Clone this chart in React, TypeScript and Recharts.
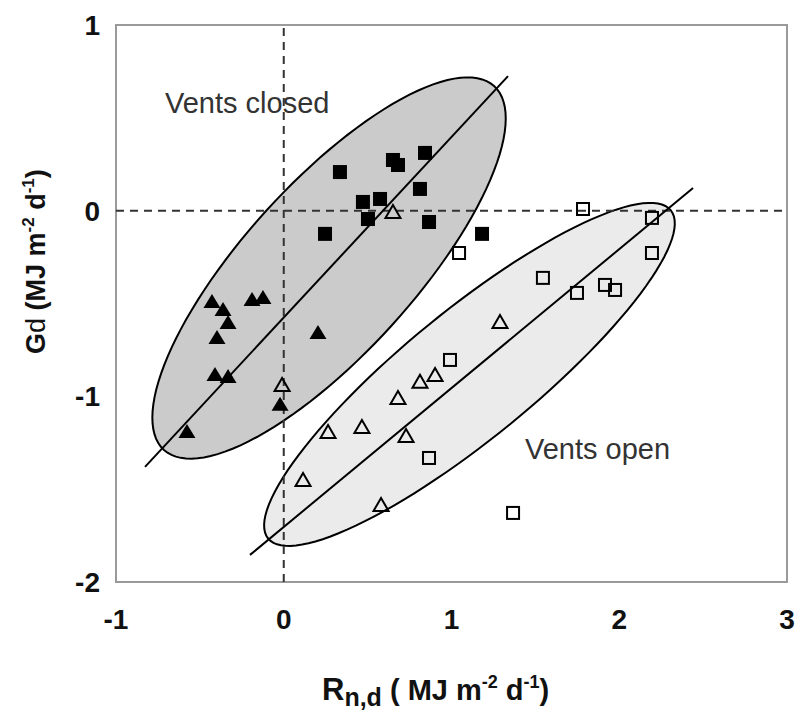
import React from 'react';
import { ScatterChart, Scatter, XAxis, YAxis, ReferenceArea, Customized } from 'recharts';

// vents closed (filled markers)
const closedSquares = [
  { x: 0.335, y: 0.208 }, { x: 0.651, y: 0.273 }, { x: 0.681, y: 0.246 }, { x: 0.842, y: 0.311 },
  { x: 0.812, y: 0.117 }, { x: 0.472, y: 0.047 }, { x: 0.574, y: 0.063 }, { x: 0.502, y: -0.045 },
  { x: 0.246, y: -0.125 }, { x: 0.866, y: -0.061 }, { x: 1.182, y: -0.125 },
];
const closedTriangles = [
  { x: -0.428, y: -0.492 }, { x: -0.362, y: -0.535 }, { x: -0.332, y: -0.605 }, { x: -0.398, y: -0.686 },
  { x: -0.189, y: -0.481 }, { x: -0.124, y: -0.47 }, { x: 0.204, y: -0.659 }, { x: -0.41, y: -0.885 },
  { x: -0.332, y: -0.896 }, { x: -0.022, y: -1.046 }, { x: -0.577, y: -1.192 },
];
// vents open (open markers)
const openTriangles = [
  { x: -0.01, y: -0.939 }, { x: 0.264, y: -1.192 }, { x: 0.466, y: -1.165 }, { x: 0.681, y: -1.009 },
  { x: 0.812, y: -0.922 }, { x: 0.902, y: -0.885 }, { x: 0.729, y: -1.213 }, { x: 0.115, y: -1.45 },
  { x: 0.58, y: -1.585 }, { x: 0.651, y: -0.007 }, { x: 1.289, y: -0.599 },
];
const openSquares = [
  { x: 1.784, y: 0.009 }, { x: 2.195, y: -0.039 }, { x: 2.195, y: -0.228 }, { x: 1.045, y: -0.228 },
  { x: 1.545, y: -0.362 }, { x: 1.748, y: -0.443 }, { x: 1.915, y: -0.4 }, { x: 1.975, y: -0.427 },
  { x: 0.991, y: -0.804 }, { x: 0.866, y: -1.332 }, { x: 1.367, y: -1.628 },
];

const closedFit = [{ x: -0.827, y: -1.38 }, { x: 1.337, y: 0.725 }];
const openFit = [{ x: -0.201, y: -1.854 }, { x: 2.44, y: 0.122 }];
const vZero = [{ x: 0, y: -2 }, { x: 0, y: 1 }];
const hZero = [{ x: -1, y: 0 }, { x: 3, y: 0 }];

const xTicks = [-1, 0, 1, 2, 3];
const yTicks = [-2, -1, 0, 1];

const closedLabel = [{ x: -0.708, y: 0.526 }];
const openLabel = [{ x: 1.438, y: -1.337 }];

// ellipse outlines: centre + two conjugate half-axes, in data units
const ellipsePoints = (cx: number, cy: number, ux: number, uy: number, vx: number, vy: number) => {
  const pts = [];
  for (let i = 0; i < 120; i++) {
    const t = (i / 120) * Math.PI * 2;
    pts.push({ x: cx + ux * Math.cos(t) + vx * Math.sin(t), y: cy + uy * Math.cos(t) + vy * Math.sin(t) });
  }
  return pts;
};
const closedEllipse = ellipsePoints(0.27, -0.309, 0.984, 0.98, -0.376, 0.307);
const openEllipse = ellipsePoints(1.107, -0.882, 1.2, 0.884, -0.242, 0.268);

const FONT = '"Liberation Sans", Arial, sans-serif';

const Hidden = () => <g />;
const FilledSquare = (p: any) => <rect x={p.cx - 7} y={p.cy - 7} width={14} height={14} fill="#000" />;
const FilledTriangle = (p: any) => (
  <polygon points={`${p.cx},${p.cy - 8} ${p.cx - 8.5},${p.cy + 6} ${p.cx + 8.5},${p.cy + 6}`} fill="#000" />
);
const OpenTriangle = (p: any) => (
  <polygon points={`${p.cx},${p.cy - 7} ${p.cx - 7.5},${p.cy + 6} ${p.cx + 7.5},${p.cy + 6}`} fill="none" stroke="#000" strokeWidth={2} />
);
const OpenSquare = (p: any) => (
  <rect x={p.cx - 6} y={p.cy - 6} width={12} height={12} fill="none" stroke="#000" strokeWidth={2} />
);
const makeLabel = (txt: string) => (p: any) => (
  <text x={p.cx} y={p.cy} fontFamily={FONT} fontSize={29} fill="#333">{txt}</text>
);

const Titles = () => (
  <g fontFamily={FONT} fontWeight={700} fill="#111">
    <text x={322} y={700} fontSize={31}>
      R<tspan fontSize={25} dy={6}>n,d</tspan>
      <tspan fontSize={29} dy={-6}> ( MJ m</tspan>
      <tspan fontSize={18} dy={-12}>-2</tspan>
      <tspan fontSize={29} dy={12}> d</tspan>
      <tspan fontSize={18} dy={-12}>-1</tspan>
      <tspan fontSize={29} dy={12}>)</tspan>
    </text>
    <text x={0} y={0} fontSize={27} transform="translate(45,354) rotate(-90)">
      G<tspan fontWeight={400}>d</tspan> (MJ m
      <tspan fontSize={17} dy={-11}>-2</tspan>
      <tspan dy={11}> d</tspan>
      <tspan fontSize={17} dy={-11}>-1</tspan>
      <tspan dy={11}>)</tspan>
    </text>
  </g>
);

export default function App() {
  const tickStyle = { fill: '#111', fontSize: 28, fontWeight: 700, fontFamily: FONT };
  return (
    <div style={{ position: 'absolute', left: 0, top: 0, width: 796, height: 711, background: '#fff' }}>
      <ScatterChart width={796} height={711} margin={{ top: 25, right: 9, bottom: 0, left: 0 }}>
        <XAxis type="number" dataKey="x" domain={[-1, 3]} ticks={xTicks} allowDataOverflow
          height={129} axisLine={false} tickLine={false} tickSize={0} tickMargin={27} tick={tickStyle} />
        <YAxis type="number" dataKey="y" domain={[-2, 1]} ticks={yTicks} allowDataOverflow
          width={116} axisLine={false} tickLine={false} tickSize={0} tickMargin={16} tick={tickStyle} />
        <ReferenceArea x1={-1} x2={3} y1={-2} y2={1} fill="none" stroke="#9a9a9a" strokeWidth={2} />

        <Scatter data={closedEllipse} shape={Hidden} line={{ stroke: '#000', strokeWidth: 2, fill: '#cbcbcb' }}
          lineJointType="linearClosed" isAnimationActive={false} />
        <Scatter data={openEllipse} shape={Hidden} line={{ stroke: '#000', strokeWidth: 2, fill: '#ebebeb' }}
          lineJointType="linearClosed" isAnimationActive={false} />

        <Scatter data={vZero} shape={Hidden} line={{ stroke: '#333', strokeWidth: 2, strokeDasharray: '8 6' }} isAnimationActive={false} />
        <Scatter data={hZero} shape={Hidden} line={{ stroke: '#333', strokeWidth: 2, strokeDasharray: '8 6' }} isAnimationActive={false} />

        <Scatter data={closedFit} shape={Hidden} line={{ stroke: '#000', strokeWidth: 2 }} isAnimationActive={false} />
        <Scatter data={openFit} shape={Hidden} line={{ stroke: '#000', strokeWidth: 2 }} isAnimationActive={false} />

        <Scatter data={closedSquares} shape={FilledSquare} isAnimationActive={false} />
        <Scatter data={closedTriangles} shape={FilledTriangle} isAnimationActive={false} />
        <Scatter data={openTriangles} shape={OpenTriangle} isAnimationActive={false} />
        <Scatter data={openSquares} shape={OpenSquare} isAnimationActive={false} />

        <Scatter data={closedLabel} shape={makeLabel('Vents closed')} isAnimationActive={false} />
        <Scatter data={openLabel} shape={makeLabel('Vents open')} isAnimationActive={false} />
        <Customized component={<Titles />} />
      </ScatterChart>
    </div>
  );
}
